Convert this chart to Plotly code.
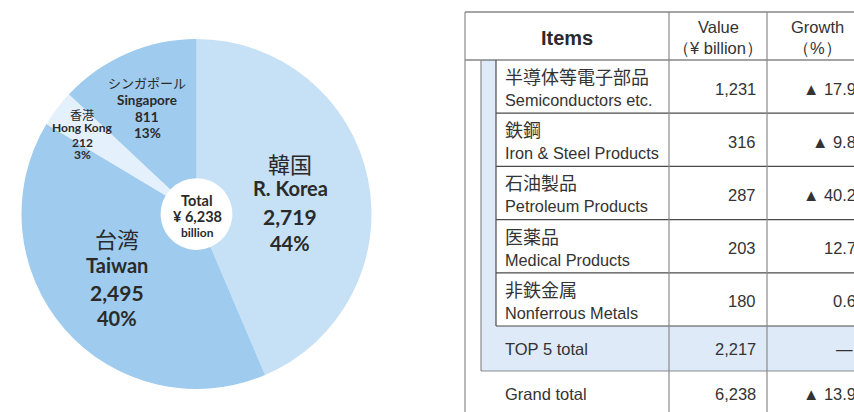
import plotly.graph_objects as go

# ---------------- data ----------------
countries_jp = ["韓国", "台湾", "香港", "シンガポール"]
countries_en = ["R. Korea", "Taiwan", "Hong Kong", "Singapore"]
country_values = [2719, 2495, 212, 811]
total_value = 6238

items_jp = ["半導体等電子部品", "鉄鋼", "石油製品", "医薬品", "非鉄金属"]
items_en = ["Semiconductors etc.", "Iron & Steel Products", "Petroleum Products",
            "Medical Products", "Nonferrous Metals"]
item_values = [1231, 316, 287, 203, 180]
item_growth = [-17.9, -9.8, -40.2, 12.7, 0.6]
top5_total = 2217
grand_total = 6238
grand_growth = -13.9

# ---------------- style ----------------
W, H = 854, 412
slice_colors = ["#c6e0f5", "#9ecbee", "#e4f0fb", "#9ecbee"]
TXT = "#2a2a2a"
LAT = "Lato, 'Open Sans', sans-serif"
JP = "'Noto Sans CJK JP', sans-serif"
TAB = "'Liberation Sans', Arial, sans-serif"


def X(px):
    return px / W


def Y(py):
    return 1 - py / H


def fmt(v):
    return f"{v:,}"


def fmt_g(g):
    return f"▲ {abs(g):.1f}" if g < 0 else f"{g:.1f}"


fig = go.Figure()
fig.add_trace(go.Pie(
    labels=countries_en, values=country_values, sort=False,
    direction="clockwise", rotation=0, hole=0.205,
    marker=dict(colors=slice_colors, line=dict(width=0)),
    textinfo="none", showlegend=False,
    domain=dict(x=[X(21), X(372)], y=[Y(389), Y(39)]),
))

ann = []


def text(px, py, s, size, font=LAT, bold=False, xanchor="center", color=TXT):
    ann.append(dict(
        x=X(px), y=Y(py), xref="paper", yref="paper", showarrow=False,
        text=f"<b>{s}</b>" if bold else s, xanchor=xanchor, yanchor="middle",
        font=dict(family=font, size=size, color=color),
    ))


pct = [round(v / total_value * 100) for v in country_values]

# pie labels: (center x, line ys, sizes)
label_layout = [
    (290, [163, 188, 216, 243], [22, 20, 21, 20]),
    (117, [238, 265, 292, 318], [22, 20, 21, 20]),
    (82, [114, 128, 142, 155], [12, 12, 12, 12]),
    (147, [82, 100, 117, 133], [13, 13.5, 13.5, 13.5]),
]
for i, (cx, ys, ss) in enumerate(label_layout):
    text(cx, ys[0], countries_jp[i], ss[0], font=JP)
    text(cx, ys[1], countries_en[i], ss[1], bold=True)
    text(cx, ys[2], fmt(country_values[i]), ss[2], bold=True)
    text(cx, ys[3], f"{pct[i]}%", ss[3], bold=True)

# centre
text(197, 200, "Total", 14.5, bold=True)
text(197, 216, f"¥ {fmt(total_value)}", 14.5, bold=True)
text(197, 232, "billion", 12, bold=True)

# ---------------- table ----------------
shapes = []
DARK = "#4a4a4a"
GRAY = "#8a8a8a"
RIGHT = 900
TOP, HEAD_B = 12, 60
ROW_H = 53.2
n = len(items_jp)
ITEMS_B = HEAD_B + ROW_H * n
TOP5_B = ITEMS_B + 45
C0, CB, CI, C1, C2 = 465, 481, 496, 669, 767


def rect(x0, y0, x1, y1, fill):
    shapes.append(dict(type="rect", xref="paper", yref="paper",
                       x0=X(x0), x1=X(x1), y0=Y(y1), y1=Y(y0),
                       fillcolor=fill, line=dict(width=0), layer="below"))


def line(x0, y0, x1, y1, color=DARK, w=1.2):
    shapes.append(dict(type="line", xref="paper", yref="paper",
                       x0=X(x0), x1=X(x1), y0=Y(y0), y1=Y(y1),
                       line=dict(color=color, width=w)))


rect(CB, HEAD_B, RIGHT, TOP5_B, "#deeaf8")
rect(CI, HEAD_B, RIGHT, ITEMS_B, "#ffffff")

line(C0, TOP, RIGHT, TOP)
line(C0, HEAD_B, RIGHT, HEAD_B)
line(C0, TOP, C0, H + 5, GRAY)
line(CB, HEAD_B, CB, TOP5_B, GRAY)
line(CI, HEAD_B, CI, ITEMS_B)
for k in range(1, n + 1):
    line(CI, HEAD_B + ROW_H * k, RIGHT, HEAD_B + ROW_H * k)
line(CB, TOP5_B, RIGHT, TOP5_B, GRAY)
line(C1, TOP, C1, H + 5, GRAY)
line(C2, TOP, C2, H + 5, GRAY)

# header
text((C0 + C1) / 2, 38, "Items", 20, font=TAB, bold=True)
text((C1 + C2) / 2, 27, "Value", 16.5, font=TAB, color="#333")
text((C1 + C2) / 2, 48, "（¥ billion）", 16.5, font=TAB, color="#333")
text(817, 27, "Growth", 16.5, font=TAB, color="#333")
text(817, 48, "（%）", 16.5, font=TAB, color="#333")

VX, GX, LX = 758, 858, 503
for i in range(n):
    top = HEAD_B + ROW_H * i
    text(LX, top + 16, items_jp[i], 18, font=JP, xanchor="left", color="#333")
    text(LX, top + 40, items_en[i], 16.3, font=TAB, xanchor="left", color="#333")
    text(VX, top + ROW_H / 2 + 2, fmt(item_values[i]), 16.5, font=TAB, xanchor="right", color="#333")
    text(GX, top + ROW_H / 2 + 2, fmt_g(item_growth[i]), 16.5, font=TAB, xanchor="right", color="#333")

mid5 = (ITEMS_B + TOP5_B) / 2
text(LX, mid5, "TOP 5 total", 16.5, font=TAB, xanchor="left", color="#333")
text(VX, mid5, fmt(top5_total), 16.5, font=TAB, xanchor="right", color="#333")
text(855, mid5, "—", 16.5, font=TAB, xanchor="right", color="#333")

gy = TOP5_B + 23
text(LX, gy, "Grand total", 16.5, font=TAB, xanchor="left", color="#333")
text(VX, gy, fmt(grand_total), 16.5, font=TAB, xanchor="right", color="#333")
text(GX, gy, fmt_g(grand_growth), 16.5, font=TAB, xanchor="right", color="#333")

fig.update_layout(
    width=W, height=H, margin=dict(l=0, r=0, t=0, b=0),
    paper_bgcolor="white", plot_bgcolor="white",
    annotations=ann, shapes=shapes,
)
fig.write_html(
    "out.html",
    config={"displayModeBar": False},
    post_script="document.body.style.margin='0';document.body.style.overflow='hidden';",
)
